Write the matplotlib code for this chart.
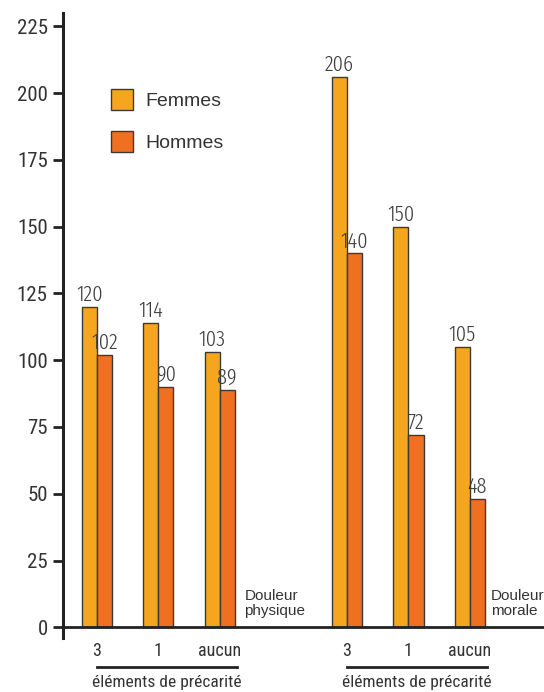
import matplotlib
matplotlib.use("Agg")
import matplotlib.pyplot as plt
import matplotlib.transforms as mtransforms
import numpy as np

# data
categories = ["3", "1", "aucun", "3", "1", "aucun"]
femmes = [120, 114, 103, 206, 150, 105]
hommes = [102, 90, 89, 140, 72, 48]
groups = ["Douleur\nphysique", "Douleur\nmorale"]
group_title = "éléments de précarité"
yticks = [0, 25, 50, 75, 100, 125, 150, 175, 200, 225]

c_f = "#f6a61e"
c_h = "#f07022"
edge = "#3a3a3a"
txt = "#333333"
cond = ["Roboto Condensed", "DejaVu Sans"]
xcond = ["Fira Sans Extra Condensed", "Roboto Condensed", "DejaVu Sans"]

plt.rcParams["font.family"] = ["Liberation Sans", "DejaVu Sans"]

fig = plt.figure(figsize=(5.44, 6.92), dpi=100)
ax = fig.add_axes([63 / 544, 1 - 638 / 692, 1 - 63 / 544, (638 - 13) / 692])

pos = np.array([0, 1, 2, 4.07, 5.08, 6.08])
w = 0.245

bf = ax.bar(pos - w, femmes, w, color=c_f, edgecolor=edge, linewidth=1, label="Femmes", align="edge")
bh = ax.bar(pos, hommes, w, color=c_h, edgecolor=edge, linewidth=1, label="Hommes", align="edge")
for bars in (bf, bh):
    ax.bar_label(bars, padding=1, fontsize=16, color="#3c3c3c", family=xcond, fontweight=300)

ax.set_xlim(-0.555, 7.29)
ax.set_ylim(-4, 230)
ax.set_yticks(yticks)
ax.set_yticklabels([str(v) for v in yticks], family=cond, fontsize=15, color=txt)
ax.tick_params(axis="y", length=7, width=2, pad=4, color="#222222")
ax.set_xticks(pos)
ax.set_xticklabels(categories, family=cond, fontsize=13, color=txt)
ax.tick_params(axis="x", length=0, pad=3)

for s in ("top", "right", "bottom"):
    ax.spines[s].set_visible(False)
ax.spines["left"].set_linewidth(2.2)
ax.spines["left"].set_color("#222222")
ax.axhline(0, color="#222222", linewidth=2, clip_on=False)

trans = mtransforms.blended_transform_factory(ax.transData, ax.transAxes)
for start in (0, 3):
    x0 = pos[start]
    x1 = pos[start + 2] + w + 0.03
    ax.plot([x0, x1], [-0.0464, -0.0464], transform=trans, color="#222222",
            linewidth=2, clip_on=False)
    ax.text((x0 + x1) / 2, -0.072, group_title, transform=trans, ha="center", va="center",
            fontsize=12.5, family=cond, color=txt)

for i, g in zip((2, 5), groups):
    ax.text(pos[i] + w + (0.16 if i == 2 else 0.1), 3.5, g, ha="left", va="bottom",
            fontsize=11, color=txt, linespacing=1.1)

leg = ax.legend(loc="upper left", bbox_to_anchor=(0.0995, 0.878), frameon=False, fontsize=14,
                handlelength=1.15, handleheight=1.3, handletextpad=0.62, labelspacing=1.05,
                borderaxespad=0, borderpad=0)
for t in leg.get_texts():
    t.set_color(txt)

fig.savefig("out.png", dpi=100)
